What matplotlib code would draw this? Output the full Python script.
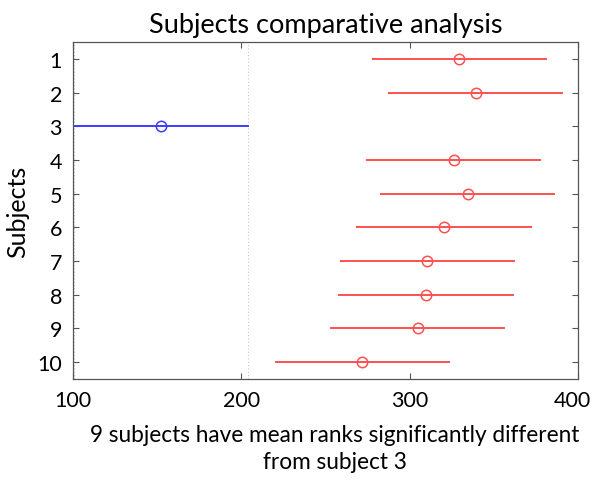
import matplotlib.pyplot as plt
import matplotlib.transforms as mtransforms

plt.rcParams['font.family'] = ['Lato', 'DejaVu Sans']

subjects = [1, 2, 3, 4, 5, 6, 7, 8, 9, 10]
mean_ranks = [329.5, 339.2, 152.2, 326.2, 334.5, 320.5, 310.5, 309.6, 304.8, 271.8]
half_width = 51.5
selected = 3

title = 'Subjects comparative analysis'
xlabel = '9 subjects have mean ranks significantly different\nfrom subject 3'
ylabel = 'Subjects'

fig = plt.figure(figsize=(5.95, 4.85), dpi=100)
ax = fig.add_axes([0.1227, 0.2165, 0.8487, 0.6948])

# dotted guides at the edges of the selected subject's interval
sel_lo = mean_ranks[selected - 1] - half_width
sel_hi = mean_ranks[selected - 1] + half_width
for xv in (sel_lo, sel_hi):
    ax.axvline(xv, color='#c8c8c8', linestyle=(0, (1, 2)), linewidth=0.8, zorder=1)

for s, m in zip(subjects, mean_ranks):
    c = '#3c3cff' if s == selected else '#ff5050'
    ax.plot([m - half_width, m + half_width], [s, s], color=c, linewidth=1.4, zorder=2)
    ax.plot(m, s, 'o', markerfacecolor='none', markeredgecolor=c,
            markersize=7.5, markeredgewidth=1.1, zorder=3)

ax.set_xlim(100, 400)
ax.set_ylim(10.5, 0.5)
ax.set_xticks([100, 200, 300, 400])
ax.set_yticks(subjects)
ax.tick_params(direction='in', length=4, width=0.8, color='#555555',
               top=True, right=True, labelsize=15.5, pad=8)
for sp in ax.spines.values():
    sp.set_color('#555555')
    sp.set_linewidth(0.9)

# nudge the last x label in so it stays inside the figure
last = ax.get_xticklabels()[-1]
last.set_transform(last.get_transform() +
                   mtransforms.ScaledTranslation(-4 / 72, 0, fig.dpi_scale_trans))

ax.set_title(title, fontsize=19.5, pad=7)
ax.set_xlabel(xlabel, fontsize=16.3, linespacing=1.3)
ax.xaxis.set_label_coords(0.519, -0.135)
ax.set_ylabel(ylabel, fontsize=18, labelpad=6)

fig.savefig('out.png', dpi=100)
